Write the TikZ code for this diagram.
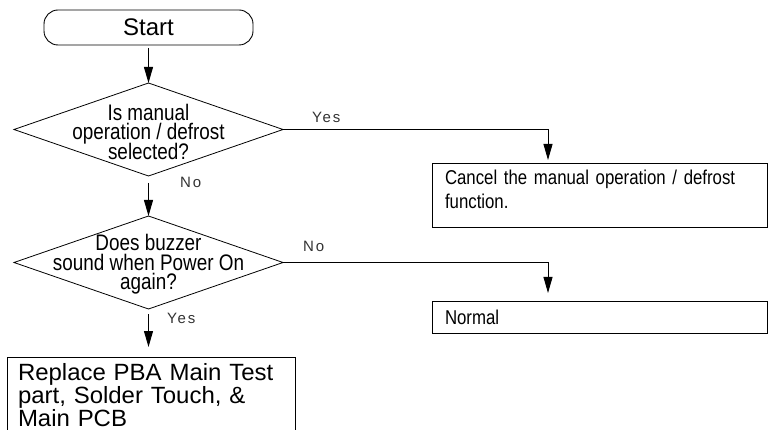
\documentclass[tikz,border=0pt]{standalone}
\usepackage{fontspec}
\setmainfont{Liberation Sans}
\newfontfamily\narrowfont[FakeStretch=0.84]{Liberation Sans}
\newfontfamily\widefont[FakeStretch=1.02]{Liberation Sans}
\newfontfamily\tagfont[LetterSpace=12]{Liberation Sans}
\usetikzlibrary{arrows.meta,shapes.geometric}
\tikzset{
    % Flowchart node styles
    startbox/.style={rectangle,draw,line width=0.9pt,rounded corners=14pt,minimum width=209pt,minimum height=35pt,inner sep=0pt,outer sep=0pt,font=\fontsize{24}{26}\selectfont},
    decision/.style={diamond,draw,line width=0.8pt,minimum width=269pt,minimum height=93pt,inner sep=0pt,outer sep=0pt},
    decisiontext/.style={align=center,inner sep=0pt,font=\narrowfont\fontsize{22.5}{19.5}\selectfont},
    actionbox/.style={rectangle,draw,line width=0.9pt,anchor=north west,align=left,outer sep=0pt,inner xsep=13pt,inner ysep=8pt,text width=309pt,font=\narrowfont\fontsize{20}{24}\selectfont},
    answer/.style={anchor=base west,inner sep=0pt,text=black!80,font=\tagfont\fontsize{15}{18}\selectfont},
    % Flow styles
    flowline/.style={draw,line width=0.9pt},
    flowarrow/.style={flowline,-{Triangle[length=16pt,width=9pt]}}
}
\begin{document}
\setlength{\lineskiplimit}{-20pt}
\begin{tikzpicture}[x=1pt,y=-1pt]
    \useasboundingbox (0,0) rectangle (768,430);
    \clip (0,0) rectangle (768,430);

    % Main column
    \node[startbox] (start) at (148.5,27.5) {Start};
    \node[decision] (q1) at (148.5,129.5) {};
    \node[decisiontext,yshift=-2pt] (q1text) at (q1) {Is manual\\operation / defrost\\selected?};
    \node[decision] (q2) at (148.5,262.5) {};
    \node[decisiontext,yshift=-2pt] (q2text) at (q2) {Does buzzer\\sound when Power On\\again?};
    \node[actionbox,draw=none,inner xsep=11pt,inner ysep=6.5pt,text width=266pt,font=\widefont\fontsize{23.5}{17.8}\selectfont] (replace) at (7,357) {Replace PBA Main Test\\part, Solder Touch, \&\\Main PCB};
    % open outline, runs off the bottom edge
    \draw[flowline] ([yshift=-20pt]replace.south west) -- (replace.north west) -- (replace.north east) -- ([yshift=-20pt]replace.south east);

    % Right column
    \node[actionbox,inner ysep=7.5pt,text depth=35pt] (cancel) at (432,163) {Cancel the manual operation / defrost\\function.};
    \node[actionbox,inner ysep=0pt,minimum height=32pt] (normal) at (432,301) {Normal};

    % Bends of the side branches
    \coordinate (yesturn) at (548,129.5);
    \coordinate (noturn) at (548,262.5);

    % Connectors
    \draw[flowarrow,shorten <=3pt] (start) -- (q1);
    \draw[flowarrow,shorten <=7pt] (q1) -- (q2);
    \draw[flowarrow,shorten <=5pt,shorten >=10pt] (q2.south) -- (q2.south |- replace.north);
    \draw[flowarrow,shorten >=3pt] (q1.east) -- (yesturn) -- (yesturn |- cancel.north);
    \draw[flowarrow,shorten >=8pt] (q2.east) -- (noturn) -- (noturn |- normal.north);

    % Answer labels
    \node[answer] (yes1) at (312,123) {Yes};
    \node[answer] (no1) at (180,188) {No};
    \node[answer] (no2) at (303,252) {No};
    \node[answer] (yes2) at (167,323) {Yes};
\end{tikzpicture}
\end{document}
